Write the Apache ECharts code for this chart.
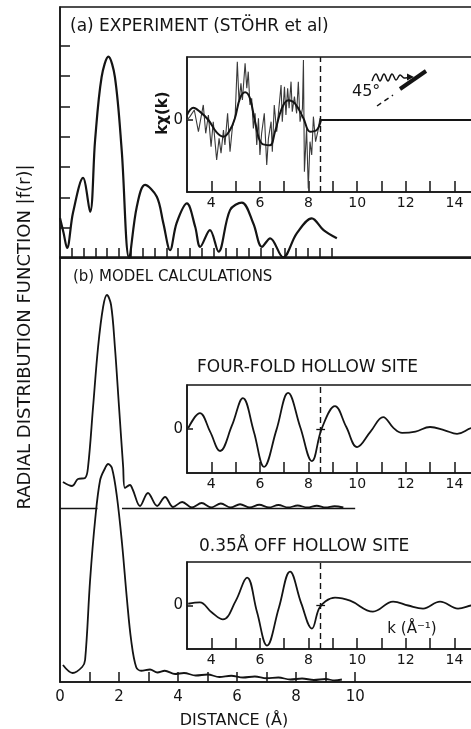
<!DOCTYPE html>
<html><head><meta charset="utf-8">
<script src="https://cdn.jsdelivr.net/npm/echarts@6/dist/echarts.min.js"></script>
<style>html,body{margin:0;padding:0;background:#fff}#c{width:471px;height:729px}</style>
</head><body><div id="c"></div>
<script>
// ---- (a) experiment |f(r)| ----
const topR = [0, 0.12, 0.24, 0.44, 0.78, 1.02, 1.19, 1.41, 1.64, 1.86, 2.09, 2.34, 2.6, 2.88, 3.28, 3.5, 3.73, 3.95, 4.3, 4.58, 4.75, 5.08, 5.37, 5.76, 6.16, 6.55, 6.84, 7.12, 7.56, 8.02, 8.53, 8.93, 9.38];
const topF = [1.32, 0.83, 0.33, 1.49, 2.64, 1.52, 3.9, 5.97, 6.64, 5.97, 3.56, 0.0, 1.68, 2.41, 2.02, 1.15, 0.26, 1.15, 1.8, 1.03, 0.37, 0.92, 0.21, 1.58, 1.83, 1.14, 0.37, 0.65, 0.02, 0.81, 1.31, 0.92, 0.65];
const topXTicks = [0.4, 0.8, 1.2, 1.6, 2.0, 2.4, 2.8, 3.2, 3.6, 4.0, 4.4, 4.8, 5.2, 5.6, 6.0, 6.4, 6.8, 7.2, 7.6, 8.0, 8.4, 8.8, 9.2];
const topYTicks = [1, 2, 3, 4, 5, 6, 7];

// ---- (b) model: four-fold hollow site |f(r)| ----
const fourR = [0.1, 0.41, 0.61, 0.85, 0.95, 1.12, 1.29, 1.46, 1.59, 1.73, 1.86, 2.0, 2.14, 2.2, 2.37, 2.47, 2.71, 2.98, 3.29, 3.56, 3.83, 4.14, 4.47, 4.8, 5.12, 5.45, 5.78, 6.1, 6.43, 6.75, 7.08, 7.4, 7.73, 8.05, 8.38, 8.7, 9.0, 9.3, 9.6];
const fourF = [1.04, 0.88, 1.16, 1.2, 1.64, 4.04, 6.44, 8.04, 8.52, 8.12, 6.44, 4.04, 1.64, 0.8, 0.92, 0.72, 0.08, 0.6, 0.08, 0.44, 0.04, 0.24, 0.02, 0.2, 0.02, 0.18, 0.02, 0.15, 0.02, 0.13, 0.02, 0.12, 0.02, 0.1, 0.02, 0.09, 0.02, 0.07, 0.02];
const fourBaseline = [[0, 1.27], [2.1, 10.0]];

// ---- (b) model: 0.35 A off hollow site |f(r)| ----
const offR = [0.1, 0.43, 0.75, 0.85, 1.02, 1.19, 1.36, 1.53, 1.63, 1.76, 1.93, 2.1, 2.27, 2.41, 2.58, 2.75, 3.05, 3.3, 3.55, 3.9, 4.2, 4.6, 5.0, 5.4, 5.8, 6.2, 6.6, 7.0, 7.4, 7.8, 8.2, 8.6, 9.0, 9.3, 9.55];
const offF = [0.68, 0.36, 0.6, 0.88, 4.08, 6.48, 8.08, 8.56, 8.72, 8.56, 7.4, 5.56, 3.28, 1.68, 0.6, 0.45, 0.5, 0.38, 0.45, 0.32, 0.36, 0.26, 0.3, 0.2, 0.25, 0.18, 0.22, 0.15, 0.18, 0.1, 0.14, 0.08, 0.12, 0.06, 0.1];
const bottomXLabels = [0, 2, 4, 6, 8, 10];
const bottomXTicks = [1, 2, 3, 4, 5, 6, 7, 8, 9, 10];

// ---- insets: k chi(k) ----
const expK = [3.0, 3.12, 3.30, 3.47, 3.67, 3.77, 3.88, 3.99, 4.08, 4.22, 4.32, 4.40, 4.50, 4.56, 4.67, 4.77, 4.87, 4.98, 5.07, 5.14, 5.22, 5.28, 5.39, 5.46, 5.52, 5.59, 5.66, 5.73, 5.80, 5.87, 5.94, 6.00, 6.07, 6.18, 6.28, 6.35, 6.46, 6.51, 6.59, 6.69, 6.76, 6.87, 6.92, 7.01, 7.07, 7.14, 7.20, 7.28, 7.33, 7.42, 7.51, 7.58, 7.65, 7.75, 7.79, 7.83, 7.92, 7.99, 8.06, 8.13, 8.20, 8.29, 8.38, 8.47, 8.50];
const expV = [0, 0.37, 1.11, -1.3, 1.67, -1.48, 0.56, -2.96, -0.19, -4.44, -2.04, -3.7, -1.11, -2.78, 0.74, -3.52, -0.74, 0.37, 6.48, 2.04, 4.07, 2.22, 6.3, 3.52, 5.37, 1.67, 2.41, -0.93, 0.74, -2.78, 0.19, -3.89, -1.48, 0.74, -5.0, -2.04, -0.19, -3.52, 1.67, -1.3, 0.74, 3.89, -0.19, 3.7, 0.56, 3.52, 1.3, 4.26, 0.93, 2.59, 0.74, 4.26, -0.19, 1.3, 6.67, -5.74, -0.93, -7.6, -2.41, -3.89, 0.37, -2.41, -1.3, 0.19, 0];
const fitK = [3.0, 3.26, 3.53, 3.88, 4.22, 4.5, 4.77, 4.97, 5.18, 5.39, 5.59, 5.8, 6.07, 6.41, 6.62, 6.9, 7.17, 7.44, 7.79, 8.06, 8.34, 8.51];
const fitV = [0.56, 1.37, 0.93, 0, -1.37, -1.85, -1.1, 0.19, 2.4, 3.07, 2.4, -0.19, -2.6, -2.8, -1.3, 1.3, 2.2, 1.85, 0.19, -1.3, -1.1, 0];
const flatK = [8.51, 16];
const flatV = [0, 0];
const fourK = [3.05, 3.53, 3.95, 4.36, 4.85, 5.30, 5.75, 6.17, 6.68, 7.16, 7.66, 8.14, 8.55, 9.09, 9.55, 10.0, 10.55, 11.07, 11.5, 11.85, 12.4, 13.0, 13.6, 14.11, 14.69, 15.2];
const fourV = [0.2, 3.6, -0.6, -5.0, 0.8, 7.0, -0.6, -8.6, -0.2, 8.2, 0.4, -7.3, 0.2, 5.2, 0.5, -4.1, -0.6, 2.7, 0.2, -0.9, -0.6, 0.45, -0.3, -1.1, 0.2, 0.8];
const offK = [3.05, 3.53, 4.0, 4.48, 5.0, 5.47, 5.88, 6.29, 6.78, 7.24, 7.7, 8.14, 8.43, 8.7, 9.09, 9.71, 10.65, 11.48, 12.1, 12.71, 13.41, 14.15, 14.69, 15.2];
const offV = [0.4, 0.7, -1.5, -3.2, 1.0, 6.4, -1.5, -9.2, -0.5, 7.8, 0.5, -5.3, -0.7, 1.0, 1.8, 1.1, -1.4, 0.9, 0.0, -0.7, 0.9, -0.7, 0.0, 0.6];
const cutoffK = 8.5;
const zeroTick = [8.32, 8.68];
const insetXLabels = [4, 6, 8, 10, 12, 14];
const insetXTicks = [4, 5, 6, 7, 8, 9, 10, 11, 12, 13, 14, 15];

const INK = '#141414';
const FONT = 'DejaVu Sans';
const pairs = (xs, ys) => xs.map((x, i) => [x, ys[i]]);

const chart = echarts.init(document.getElementById('c'), null, {renderer: 'canvas'});

const axLine = {show: true, onZero: false, lineStyle: {color: INK, width: 1.5}};
const noSplit = {show: false};

function insetX(idx) {
  return {gridIndex: idx, type: 'value', min: 3, max: 16,
    axisLine: axLine, splitLine: noSplit,
    axisTick: {show: true, inside: true, length: 11, customValues: insetXTicks, lineStyle: {color: INK, width: 1.5}},
    axisLabel: {show: true, customValues: insetXLabels, margin: 4, fontSize: 14, fontFamily: FONT, color: INK}};
}
function insetY(idx, mn, mx) {
  return {gridIndex: idx, type: 'value', min: mn, max: mx,
    axisLine: axLine, splitLine: noSplit,
    axisTick: {show: true, inside: true, length: 6, customValues: [0], lineStyle: {color: INK, width: 1.5}},
    axisLabel: {show: true, customValues: [0], margin: 4, fontSize: 15, fontFamily: FONT, color: INK}};
}
const gridBorder = {show: true, borderColor: INK, borderWidth: 1.5, backgroundColor: 'transparent', outerBoundsMode: 'none', containLabel: false};

const dashLine = {
  silent: true, symbol: 'none', label: {show: false},
  lineStyle: {color: INK, type: [6, 4], width: 1.4},
  data: [{xAxis: cutoffK}]
};
const dashPlusTick = {
  silent: true, symbol: 'none', label: {show: false},
  lineStyle: {color: INK, type: [6, 4], width: 1.4},
  data: [
    {xAxis: cutoffK},
    [{coord: [zeroTick[0], 0], lineStyle: {type: 'solid', width: 1.3}}, {coord: [zeroTick[1], 0]}]
  ]
};

const option = {
  animation: false,
  backgroundColor: '#fff',
  grid: [
    Object.assign({left: 60, top: 7, width: 428, height: 251}, gridBorder),
    {left: 60, top: 258, width: 428, height: 250, show: false, outerBoundsMode: 'none', containLabel: false},
    Object.assign({left: 60, top: 257, width: 428, height: 425}, gridBorder),
    Object.assign({left: 187, top: 57, width: 316, height: 135}, gridBorder),
    Object.assign({left: 187, top: 385, width: 316, height: 88}, gridBorder),
    Object.assign({left: 187, top: 562, width: 316, height: 87}, gridBorder)
  ],
  xAxis: [
    {gridIndex: 0, type: 'value', min: 0, max: 14.5, axisLine: axLine, splitLine: noSplit,
      axisTick: {show: true, inside: true, length: 10, customValues: topXTicks, lineStyle: {color: INK, width: 1.5}},
      axisLabel: {show: false}},
    {gridIndex: 1, type: 'value', min: 0, max: 14.5, show: false},
    {gridIndex: 2, type: 'value', min: 0, max: 14.5, axisLine: axLine, splitLine: noSplit,
      axisTick: {show: true, inside: true, length: 10, customValues: bottomXTicks, lineStyle: {color: INK, width: 1.5}},
      axisLabel: {show: true, customValues: bottomXLabels, margin: 8, fontSize: 15, fontFamily: FONT, color: INK}},
    insetX(3), insetX(4), insetX(5)
  ],
  yAxis: [
    {gridIndex: 0, type: 'value', min: 0, max: 8.28, axisLine: axLine, splitLine: noSplit,
      axisTick: {show: true, inside: true, length: 10, customValues: topYTicks, lineStyle: {color: INK, width: 1.5}},
      axisLabel: {show: false}},
    {gridIndex: 1, type: 'value', min: 0, max: 10, show: false},
    {gridIndex: 2, type: 'value', min: 0, max: 17, axisLine: axLine, splitLine: noSplit,
      axisTick: {show: false}, axisLabel: {show: false}},
    insetY(3, -8, 7), insetY(4, -10, 10), insetY(5, -10, 10)
  ],
  series: [
    {type: 'line', xAxisIndex: 0, yAxisIndex: 0, data: pairs(topR, topF), smooth: 0.35,
      symbol: 'none', lineStyle: {color: INK, width: 2.2}},
    {type: 'line', xAxisIndex: 1, yAxisIndex: 1, data: pairs(fourR, fourF), smooth: 0.35,
      symbol: 'none', lineStyle: {color: INK, width: 1.8},
      markLine: {silent: true, symbol: 'none', label: {show: false},
        lineStyle: {color: INK, type: 'solid', width: 1.3},
        data: fourBaseline.map(s => [{coord: [s[0], 0]}, {coord: [s[1], 0]}])}},
    {type: 'line', xAxisIndex: 2, yAxisIndex: 2, data: pairs(offR, offF), smooth: 0.35,
      symbol: 'none', lineStyle: {color: INK, width: 1.8}},
    {type: 'line', xAxisIndex: 3, yAxisIndex: 3, data: pairs(expK, expV), smooth: false,
      symbol: 'none', lineStyle: {color: '#3a3a3a', width: 1.1}},
    {type: 'line', xAxisIndex: 3, yAxisIndex: 3, data: pairs(fitK, fitV), smooth: 0.4,
      symbol: 'none', lineStyle: {color: INK, width: 2}, markLine: dashLine},
    {type: 'line', xAxisIndex: 3, yAxisIndex: 3, data: pairs(flatK, flatV),
      symbol: 'none', lineStyle: {color: INK, width: 1.8}},
    {type: 'line', xAxisIndex: 4, yAxisIndex: 4, data: pairs(fourK, fourV), smooth: 0.4,
      symbol: 'none', lineStyle: {color: INK, width: 1.8}, markLine: dashPlusTick},
    {type: 'line', xAxisIndex: 5, yAxisIndex: 5, data: pairs(offK, offV), smooth: 0.4,
      symbol: 'none', lineStyle: {color: INK, width: 1.8}, markLine: dashPlusTick}
  ],
  graphic: [
    {type: 'text', x: 70, y: 27, style: {text: '(a) EXPERIMENT (STÖHR et al)', fontSize: 17, fontFamily: FONT, fill: INK, align: 'left', verticalAlign: 'middle'}},
    {type: 'text', x: 73, y: 277, style: {text: '(b) MODEL CALCULATIONS', fontSize: 15, fontFamily: FONT, fill: INK, align: 'left', verticalAlign: 'middle'}},
    {type: 'text', x: 197, y: 368, style: {text: 'FOUR-FOLD HOLLOW SITE', fontSize: 17, fontFamily: FONT, fill: INK, align: 'left', verticalAlign: 'middle'}},
    {type: 'text', x: 199, y: 547, style: {text: '0.35Å OFF HOLLOW SITE', fontSize: 17, fontFamily: FONT, fill: INK, align: 'left', verticalAlign: 'middle'}},
    {type: 'text', x: 25, y: 337, rotation: Math.PI / 2, style: {text: 'RADIAL DISTRIBUTION FUNCTION |f(r)|', fontSize: 18, fontFamily: FONT, fill: INK, align: 'center', verticalAlign: 'middle'}},
    {type: 'text', x: 234, y: 721, style: {text: 'DISTANCE (Å)', fontSize: 16, fontFamily: FONT, fill: INK, align: 'center', verticalAlign: 'middle'}},
    {type: 'text', x: 163, y: 113, rotation: Math.PI / 2, style: {text: 'kχ(k)', fontSize: 15, fontFamily: FONT, fontWeight: 'bold', fill: INK, align: 'center', verticalAlign: 'middle'}},
    {type: 'text', x: 412, y: 629, style: {text: 'k (Å⁻¹)', fontSize: 15, fontFamily: FONT, fill: INK, align: 'center', verticalAlign: 'middle'}},
    {type: 'text', x: 352, y: 92, style: {text: '45°', fontSize: 16, fontFamily: FONT, fill: INK, align: 'left', verticalAlign: 'middle'}},
    {type: 'polyline', shape: {points: [[372, 81], [376, 74], [380, 81], [384, 74], [388, 81], [392, 74], [396, 80], [400, 75], [404, 78], [410, 77]], smooth: 0.4}, style: {stroke: INK, lineWidth: 1.5, fill: null}},
    {type: 'polygon', shape: {points: [[414, 77], [407, 73.5], [407, 80.5]]}, style: {fill: INK}},
    {type: 'line', shape: {x1: 400, y1: 89, x2: 426, y2: 71}, style: {stroke: INK, lineWidth: 4}},
    {type: 'line', shape: {x1: 377, y1: 106, x2: 393, y2: 95}, style: {stroke: INK, lineWidth: 1.5, lineDash: [5, 4]}}
  ]
};
chart.setOption(option);
</script>
</body></html>
